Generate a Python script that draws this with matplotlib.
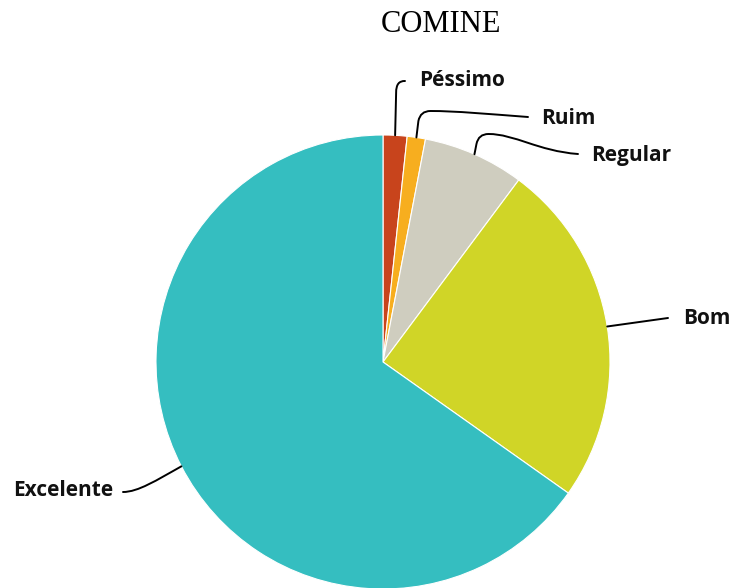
import numpy as np
import matplotlib
matplotlib.use("Agg")
import matplotlib.pyplot as plt
from matplotlib.path import Path
from matplotlib.patches import PathPatch

categories = ["Péssimo", "Ruim", "Regular", "Bom", "Excelente"]
values = [1.7, 1.3, 7.2, 24.6, 65.2]
colors = ["#C8441C", "#F7AE1F", "#CFCDBF", "#D0D527", "#35BEC0"]
title = "COMINE"

W, H = 733, 588
fig = plt.figure(figsize=(W / 100, H / 100), dpi=100)
ax = fig.add_axes([0, 0, 1, 1])
ax.set_xlim(0, W)
ax.set_ylim(0, H)
ax.set_aspect("equal")
ax.axis("off")

cx, cy, r = 383, H - 362, 227
wedges, _ = ax.pie(values, colors=colors, startangle=90, counterclock=False,
                   center=(cx, cy), radius=r,
                   wedgeprops=dict(edgecolor="white", linewidth=0.8))
ax.set_xlim(0, W)
ax.set_ylim(0, H)

# label layout (pixel coords, y from top)
label_pos = {
    "Péssimo": (419, 80, "left"),
    "Ruim": (541, 118, "left"),
    "Regular": (591, 155, "left"),
    "Bom": (683, 318, "left"),
    "Excelente": (13, 491, "left"),
}

def line(verts_pix, codes):
    verts = [(x, H - y) for x, y in verts_pix]
    ax.add_patch(PathPatch(Path(verts, codes), fill=False, lw=1.4, ec="black",
                           capstyle="round", zorder=5))

for w, cat in zip(wedges, categories):
    ang = np.deg2rad((w.theta1 + w.theta2) / 2)
    ax_x = cx + r * np.cos(ang)
    ax_y = H - (cy + r * np.sin(ang))  # pixel y
    lx, ly, ha = label_pos[cat]
    if cat == "Péssimo":
        ex, ey = lx - 14, ly + 1
        line([(ax_x, ax_y), (ax_x + 1, ey + 12), (ax_x + 1, ey + 3), (ax_x + 4, ey), (ex, ey)],
             [Path.MOVETO, Path.LINETO, Path.CURVE4, Path.CURVE4, Path.CURVE4])
    elif cat in ("Ruim", "Regular"):
        ex, ey = lx - 13, ly - 1
        ty = ey - (6 if cat == "Ruim" else 20)
        line([(ax_x, ax_y), (ax_x + 2, ty + 10), (ax_x + 4, ty), (ax_x + 14, ty),
              (ax_x + 40, ty), (ex - 40, ey - 3), (ex, ey)],
             [Path.MOVETO, Path.LINETO, Path.CURVE3, Path.CURVE3,
              Path.CURVE4, Path.CURVE4, Path.CURVE4])
    elif cat == "Bom":
        ex, ey = lx - 15, ly
        line([(ax_x, ax_y), (ex, ey)], [Path.MOVETO, Path.LINETO])
    else:
        ex, ey = 123, ly + 1
        line([(ax_x, ax_y), (ax_x - 25, ax_y + 14), (ex + 15, ey), (ex, ey)],
             [Path.MOVETO, Path.CURVE4, Path.CURVE4, Path.CURVE4])
    ax.text(lx, H - ly, cat, ha=ha, va="center", fontsize=15,
            fontweight="bold", family=["Open Sans", "DejaVu Sans"], color="#111111")

ax.text(441, H - 24, title, ha="center", va="center", fontsize=22,
        family=["Liberation Serif", "DejaVu Serif"], color="black")

fig.savefig("out.png", dpi=100)
